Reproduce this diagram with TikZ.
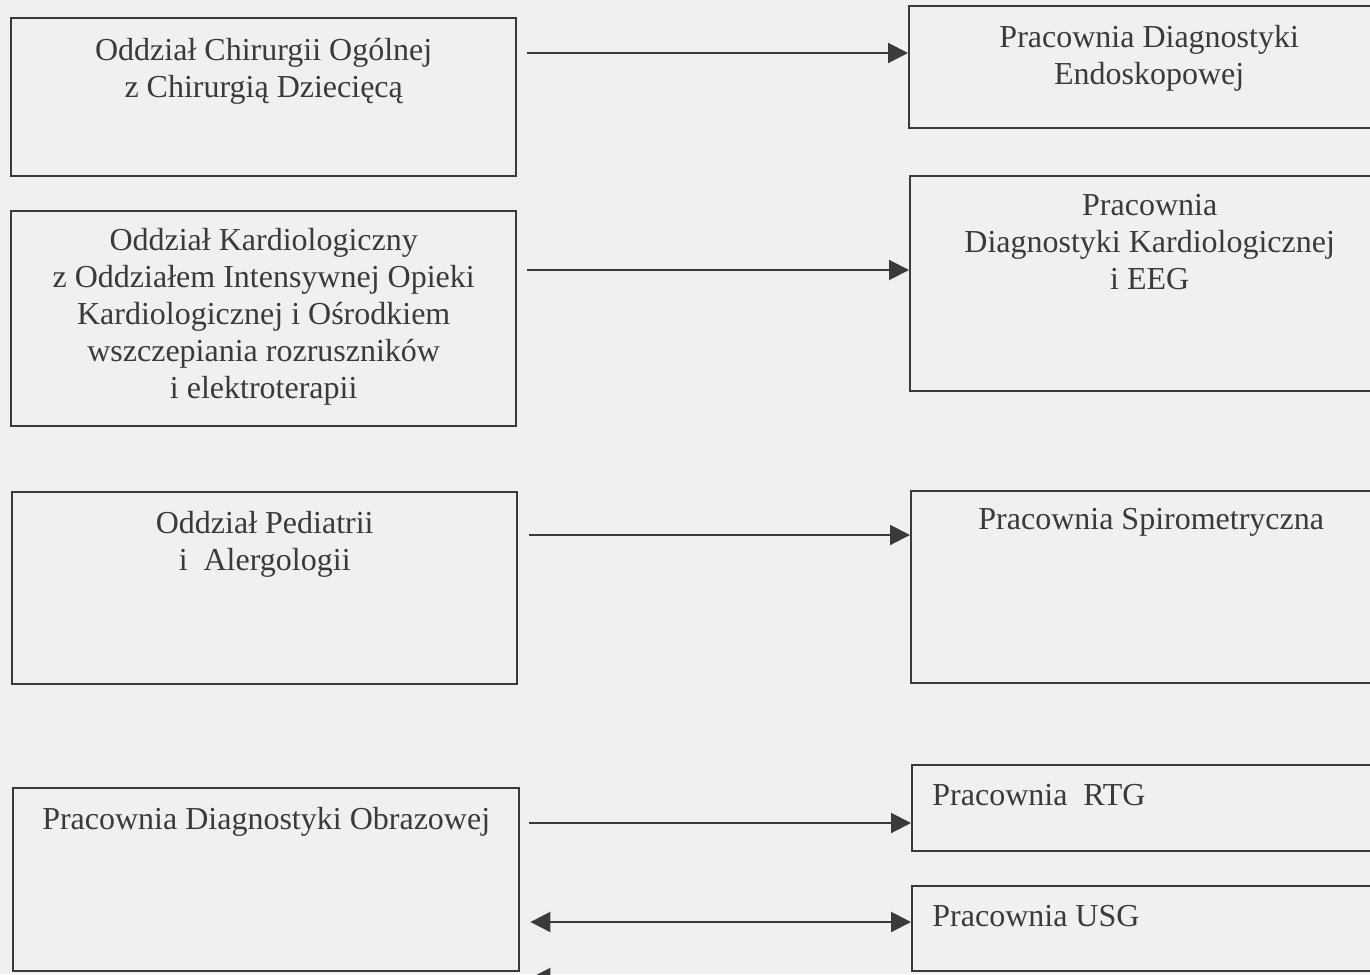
\documentclass[tikz,border=0pt]{standalone}
\usepackage{fontspec}
\setmainfont{Liberation Serif}
\usetikzlibrary{arrows.meta,calc}
\definecolor{ink}{HTML}{3A3A3A}
\definecolor{paper}{HTML}{F0F0F0}
\begin{document}
\begin{tikzpicture}[x=0.5pt,y=-0.5pt,
  box/.style={draw=ink, line width=1.2pt, rectangle, inner sep=0pt, anchor=north west},
  txt/.style={text=ink, font=\fontsize{16}{18.5}\selectfont, align=center, inner sep=0pt, anchor=north},
  ltxt/.style={txt, align=left, anchor=north west},
  arr/.style={draw=ink, line width=1pt, -{Triangle[length=10pt,width=10pt]}},
  darr/.style={draw=ink, line width=1pt, {Triangle[length=10pt,width=10pt]}-{Triangle[length=10pt,width=10pt]}}
]
\useasboundingbox (0,0) rectangle (1370,974);
\clip (0,0) rectangle (1370,974);
\fill[paper] (0,0) rectangle (1370,974);

% left boxes
\node[box, minimum width=252.5pt, minimum height=79pt]   (L1) at (10,17)  {};
\node[box, minimum width=252.5pt, minimum height=107.5pt](L2) at (10,210) {};
\node[box, minimum width=252.5pt, minimum height=96pt]   (L3) at (11,491) {};
\node[box, minimum width=253pt,   minimum height=91.5pt] (L4) at (12,787) {};
% right boxes
\node[box, minimum width=240pt,   minimum height=61pt]   (R1) at (908,5)   {};
\node[box, minimum width=239.5pt, minimum height=107.5pt](R2) at (909,175) {};
\node[box, minimum width=240pt,   minimum height=96pt]   (R3) at (910,490) {};
\node[box, minimum width=240pt,   minimum height=43pt]   (R4) at (911,764) {};
\node[box, minimum width=240pt,   minimum height=42.5pt] (R5) at (911,885) {};

% texts
\node[txt] (tL1) at ($(L1.north)+(0,21)$) {Oddział Chirurgii Ogólnej\\z Chirurgią Dziecięcą};
\node[txt] (tL2) at ($(L2.north)+(0,18)$) {Oddział Kardiologiczny\\z Oddziałem Intensywnej Opieki\\Kardiologicznej i Ośrodkiem\\wszczepiania rozruszników\\i elektroterapii};
\node[txt] (tL3) at ($(L3.north)+(0,20)$) {Oddział Pediatrii\\i\ \ Alergologii};
\node[txt] (tL4) at ($(L4.north)+(0,20)$) {Pracownia Diagnostyki Obrazowej};
\node[txt] (tR1) at ($(R1.north)+(0,20)$) {Pracownia Diagnostyki\\Endoskopowej};
\node[txt] (tR2) at ($(R2.north)+(0,19)$) {Pracownia\\Diagnostyki Kardiologicznej\\i EEG};
\node[txt] (tR3) at ($(R3.north)+(0,18)$) {Pracownia Spirometryczna};
\node[ltxt] (tR4) at ($(R4.north west)+(21,20)$) {Pracownia\ \ RTG};
\node[ltxt] (tR5) at ($(R5.north west)+(21,20)$) {Pracownia USG};

% connectors
\coordinate (a1) at ($(L1.north east)+(10,36)$);
\coordinate (a2) at ($(L2.north east)+(10,60)$);
\coordinate (a3) at ($(L3.north east)+(11,44)$);
\coordinate (a4) at ($(L4.north east)+(9,36)$);
\coordinate (a5) at ($(L4.north east)+(10,135)$);
\coordinate (a6) at ($(L4.north east)+(10,191)$);
\draw[arr] (a1) -- (a1 -| R1.west);
\draw[arr] (a2) -- (a2 -| R2.west);
\draw[arr] (a3) -- (a3 -| R3.west);
\draw[arr] (a4) -- (a4 -| R4.west);
\draw[darr] (a5) -- (a5 -| R5.west);
\draw[arr] (a6 -| R5.west) -- (a6);
\end{tikzpicture}
\end{document}
